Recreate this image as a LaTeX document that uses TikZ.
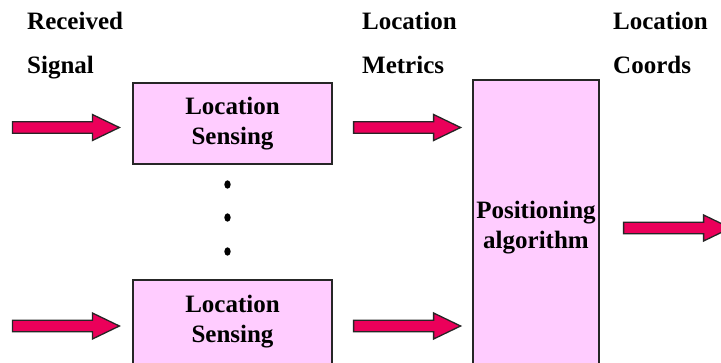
\documentclass[tikz,border=0pt]{standalone}
\usepackage{fontspec}
\setmainfont{Liberation Serif}
\definecolor{boxpink}{RGB}{255,204,255}
\definecolor{arrowred}{RGB}{235,0,90}
\begin{document}
\begin{tikzpicture}[x=1pt,y=-1pt,
  lbl/.style={font=\fontsize{25}{44}\selectfont\bfseries,align=left,anchor=base west,inner sep=0pt},
  blk/.style={draw=black!85,line width=1.2pt,fill=boxpink,font=\fontsize{25}{30}\selectfont\bfseries,align=center,inner sep=0pt},
  fat/.style={draw=black!85,line width=1.3pt,fill=arrowred,line join=miter}]
\useasboundingbox (0,0) rectangle (721,362);
\clip (0,0) rectangle (721,362);
% column titles
\node[lbl,name=recv] at (27,73){Received\\Signal};
\node[lbl,name=metr] at (362,73){Location\\Metrics};
\node[lbl,name=crds] at (613,73){Location\\Coords};
% blocks
\node[blk,minimum width=199,minimum height=81,name=sens1] at (232.5,123.5){Location\\Sensing};
\node[blk,minimum width=199,minimum height=84,name=sens2] at (232.5,322){Location\\Sensing};
\node[blk,minimum width=126,minimum height=296,name=pos] at (536,228){Positioning\\algorithm};
% dots between the sensing blocks
\foreach \y in {184.5,217.5,251.5}
  \fill (227.5,\y) ellipse (3.2 and 4.2);
% block arrows
\draw[fat] (sens1.west) ++(-120,-1.8) -- ++(80,0) -- ++(0,-7.2) -- ++(27,13) -- ++(-27,13) -- ++(0,-7.2) -- ++(-80,0) -- cycle;
\draw[fat] (sens2.west) ++(-120,-1.8) -- ++(80,0) -- ++(0,-7.2) -- ++(27,13) -- ++(-27,13) -- ++(0,-7.2) -- ++(-80,0) -- cycle;
\draw[fat] (sens1.east) ++(21,-1.8) -- ++(80,0) -- ++(0,-7.2) -- ++(27,13) -- ++(-27,13) -- ++(0,-7.2) -- ++(-80,0) -- cycle;
\draw[fat] (sens2.east) ++(21,-1.8) -- ++(80,0) -- ++(0,-7.2) -- ++(27,13) -- ++(-27,13) -- ++(0,-7.2) -- ++(-80,0) -- cycle;
\draw[fat] (pos.east) ++(24,-5.8) -- ++(80,0) -- ++(0,-7.2) -- ++(27,13) -- ++(-27,13) -- ++(0,-7.2) -- ++(-80,0) -- cycle;
\end{tikzpicture}
\end{document}
